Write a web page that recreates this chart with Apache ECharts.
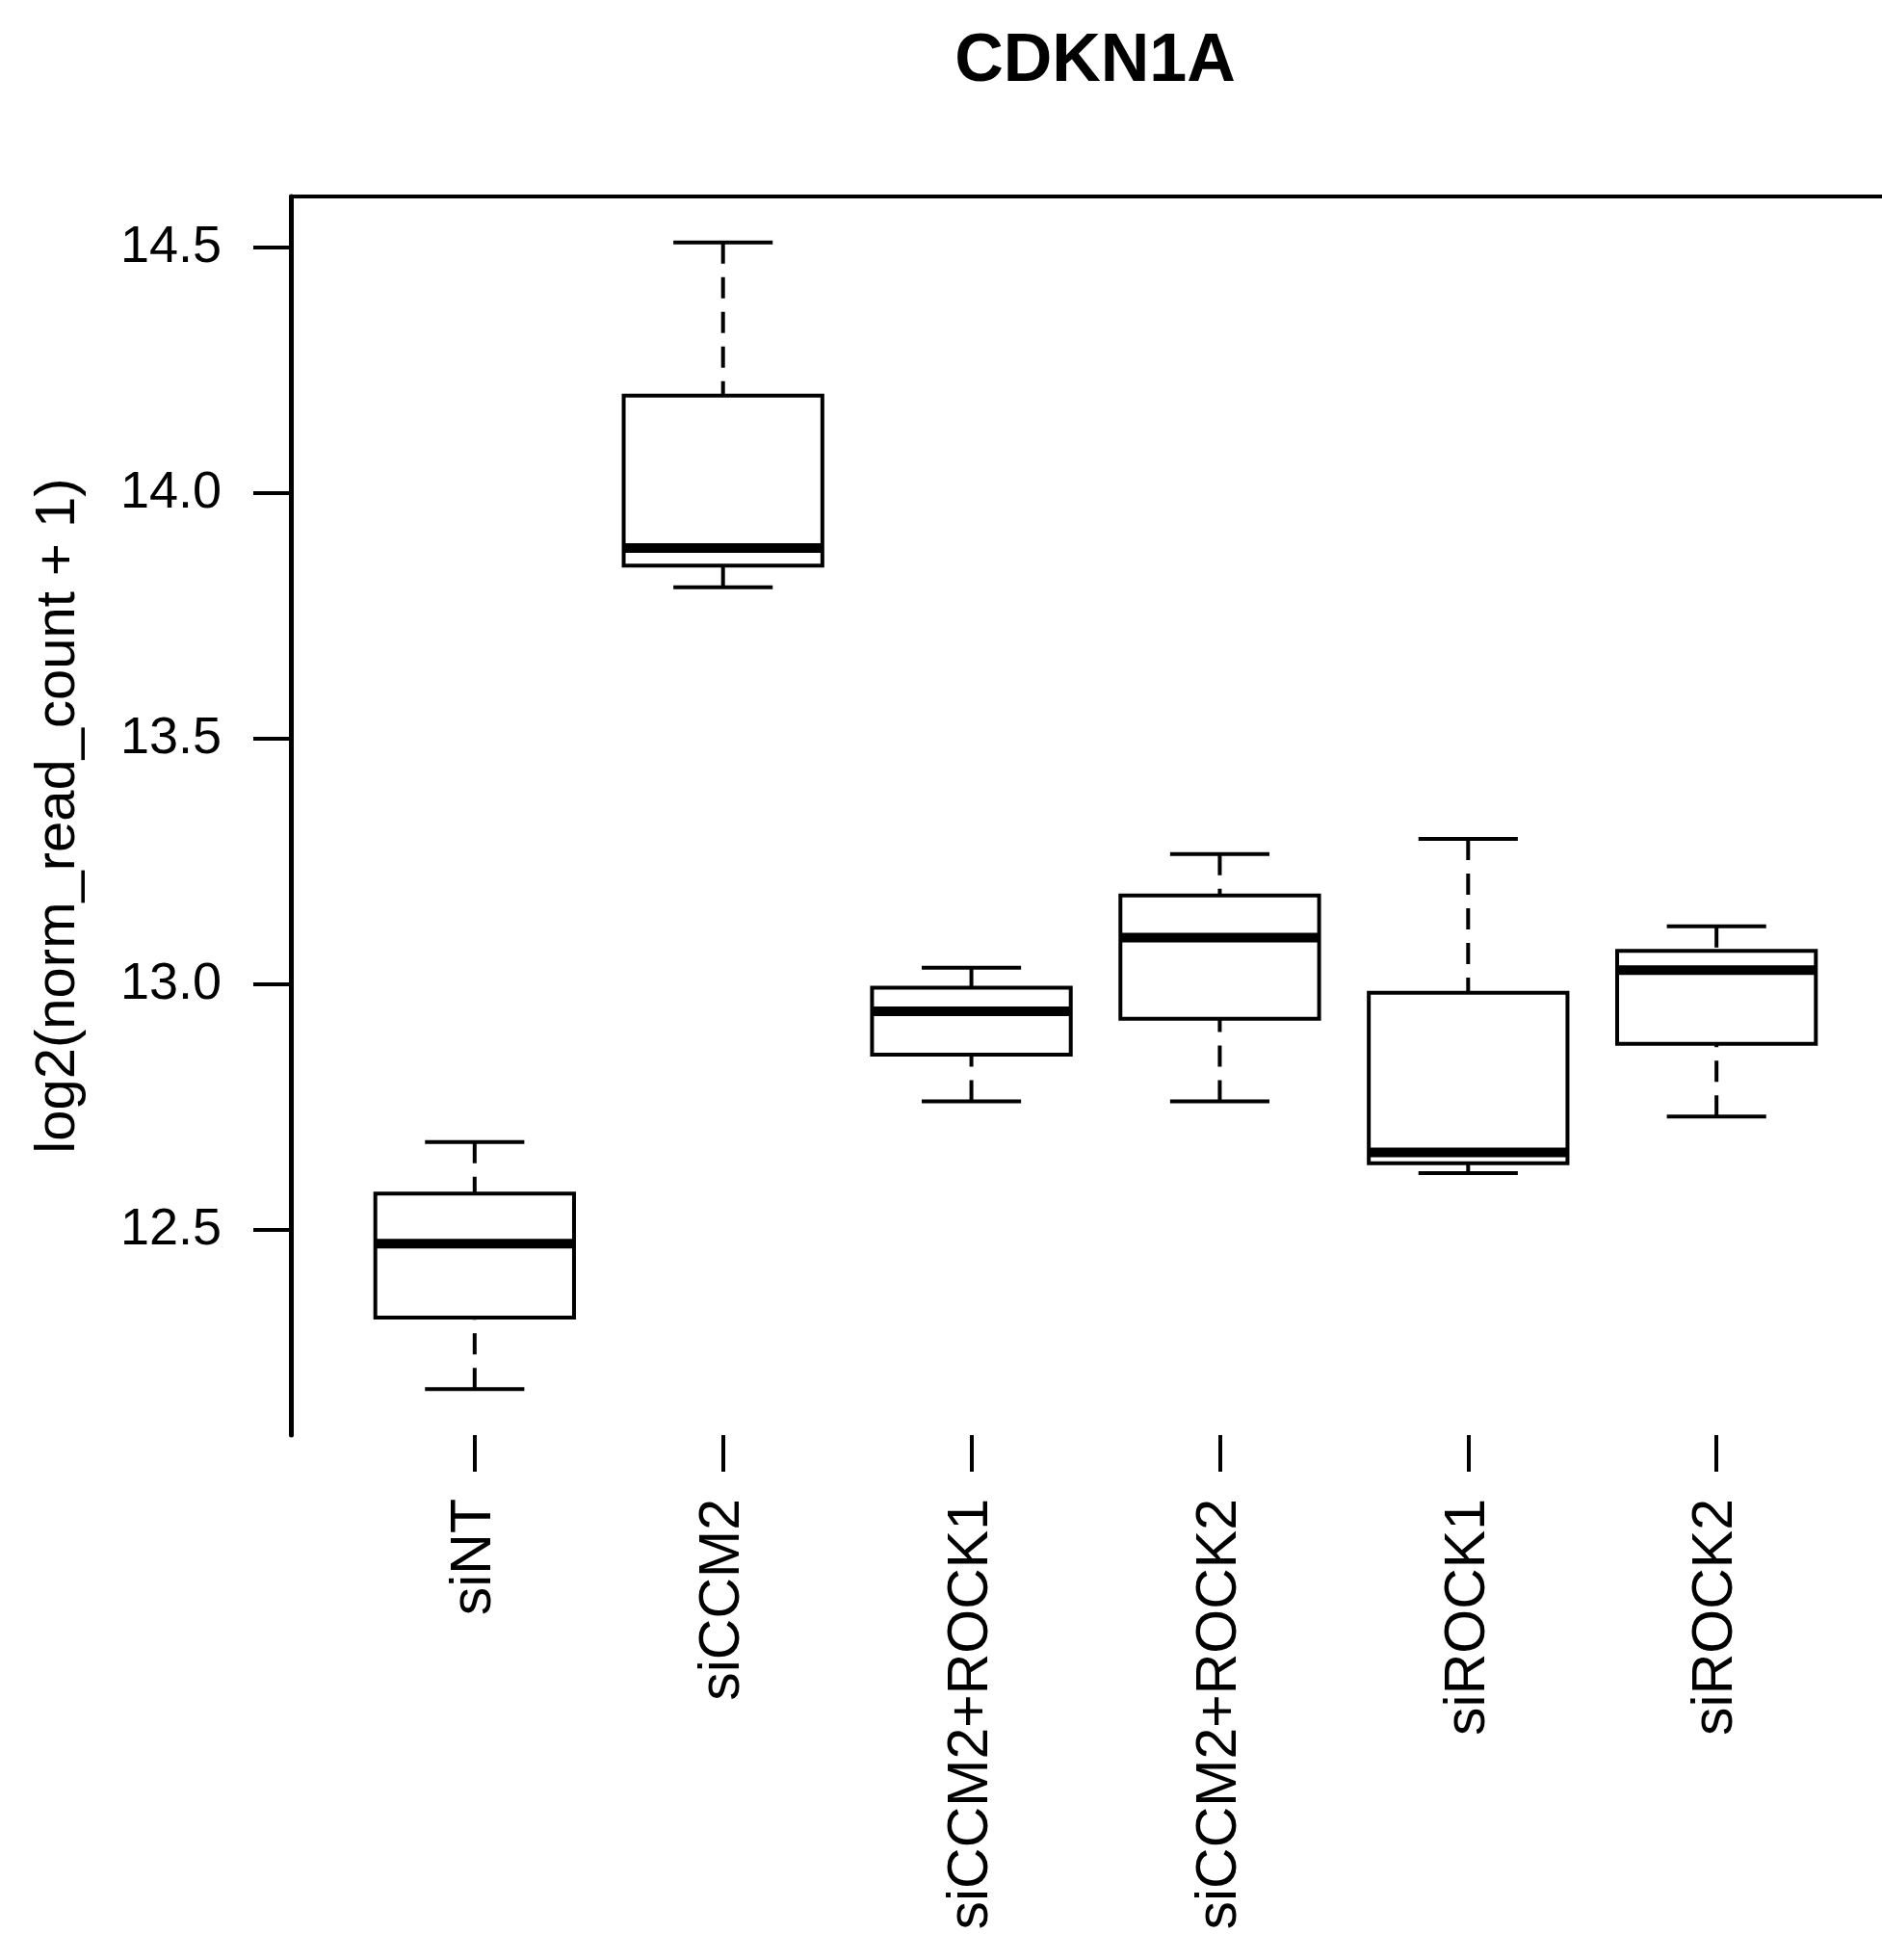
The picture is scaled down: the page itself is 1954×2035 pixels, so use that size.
<!DOCTYPE html>
<html>
<head>
<meta charset="utf-8">
<script src="https://cdn.jsdelivr.net/npm/echarts@6/dist/echarts.min.js"></script>
<style>
  html, body { margin: 0; padding: 0; background: #fff; }
  #chart { width: 1954px; height: 2035px; }
</style>
</head>
<body>
<div id="chart"></div>
<script>
// ---- data ----
const categories = ['siNT', 'siCCM2', 'siCCM2+ROCK1', 'siCCM2+ROCK2', 'siROCK1', 'siROCK2'];
const lowerWhisker = [12.176, 13.808, 12.762, 12.762, 12.616, 12.731];
const lowerQuartile = [12.322, 13.852, 12.857, 12.930, 12.636, 12.879];
const medianValue  = [12.472, 13.888, 12.945, 13.095, 12.658, 13.029];
const upperQuartile = [12.574, 14.198, 12.993, 13.181, 12.983, 13.068];
const upperWhisker = [12.679, 14.510, 13.034, 13.265, 13.296, 13.118];
const yTicks = [12.5, 13.0, 13.5, 14.0, 14.5];
const titleText = 'CDKN1A';
const yTitle = 'log2(norm_read_count + 1)';

// ---- build ----
const rows = categories.map((c, i) => [i, lowerWhisker[i], lowerQuartile[i], medianValue[i], upperQuartile[i], upperWhisker[i]]);
const xIdx = categories.map((c, i) => i);
const lo = Math.min(...lowerWhisker), hi = Math.max(...upperWhisker);
const yMin = lo - 0.04 * (hi - lo), yMax = hi + 0.04 * (hi - lo);
const xMin = -0.5 - 0.04 * categories.length, xMax = categories.length - 0.5 + 0.04 * categories.length;

const FONT = '"Liberation Sans", Arial, Helvetica, sans-serif';
const INK = '#000';

const chart = echarts.init(document.getElementById('chart'), null, { renderer: 'canvas' });
chart.setOption({
  backgroundColor: '#fff',
  animation: false,
  title: {
    text: titleText,
    left: 1132,
    top: 25,
    textAlign: 'center',
    textStyle: { fontFamily: FONT, fontSize: 70, fontWeight: 'bold', color: INK }
  },
  grid: { left: 302, top: 204, width: 1671, height: 1286, containLabel: false, outerBoundsMode: 'none' },
  xAxis: [{
    type: 'value', min: xMin, max: xMax, position: 'bottom',
    axisLine: { show: false, onZero: false },
    splitLine: { show: false },
    axisTick: { show: true, customValues: xIdx, length: 38, lineStyle: { color: INK, width: 4 } },
    axisLabel: {
      customValues: xIdx, rotate: 90, margin: 66,
      padding: [10, 0, 0, 0],
      formatter: v => categories[Math.round(v)],
      fontFamily: FONT, fontSize: 59, color: INK
    }
  }, {
    type: 'value', min: xMin, max: xMax, position: 'top',
    axisLine: { show: true, onZero: false, lineStyle: { color: INK, width: 4 } },
    axisTick: { show: false }, axisLabel: { show: false }, splitLine: { show: false }
  }],
  yAxis: {
    type: 'value', min: yMin, max: yMax, position: 'left',
    axisLine: { show: true, onZero: false, lineStyle: { color: INK, width: 5 } },
    splitLine: { show: false },
    axisTick: { show: true, customValues: yTicks, length: 39, lineStyle: { color: INK, width: 4 } },
    axisLabel: {
      customValues: yTicks, margin: 72,
      formatter: v => v.toFixed(1),
      fontFamily: FONT, fontSize: 54, color: INK
    },
    name: yTitle, nameLocation: 'middle', nameGap: 212, nameRotate: 90,
    nameTextStyle: { fontFamily: FONT, fontSize: 58, color: INK }
  },
  series: [{
    type: 'custom',
    xAxisIndex: 0, yAxisIndex: 0,
    data: rows,
    encode: { x: 0, y: [1, 2, 3, 4, 5] },
    renderItem: function (params, api) {
      const x = api.value(0);
      const pLo = api.coord([x, api.value(1)]);
      const pQ1 = api.coord([x, api.value(2)]);
      const pMd = api.coord([x, api.value(3)]);
      const pQ3 = api.coord([x, api.value(4)]);
      const pHi = api.coord([x, api.value(5)]);
      const unit = api.size([1, 0])[0];
      const bw = unit * 0.8, sw = unit * 0.4;
      const cx = pMd[0];
      const dashed = { stroke: INK, lineWidth: 4, lineDash: [22, 14], fill: null };
      const solid = { stroke: INK, lineWidth: 4, fill: null };
      return {
        type: 'group',
        children: [
          { type: 'line', shape: { x1: cx, y1: pHi[1], x2: cx, y2: pQ3[1] }, style: dashed },
          { type: 'line', shape: { x1: cx, y1: pLo[1], x2: cx, y2: pQ1[1] }, style: dashed },
          { type: 'line', shape: { x1: cx - sw / 2, y1: pHi[1], x2: cx + sw / 2, y2: pHi[1] }, style: solid },
          { type: 'line', shape: { x1: cx - sw / 2, y1: pLo[1], x2: cx + sw / 2, y2: pLo[1] }, style: solid },
          { type: 'rect', shape: { x: cx - bw / 2, y: pQ3[1], width: bw, height: pQ1[1] - pQ3[1] },
            style: { fill: '#fff', stroke: INK, lineWidth: 4 } },
          { type: 'line', shape: { x1: cx - bw / 2, y1: pMd[1], x2: cx + bw / 2, y2: pMd[1] },
            style: { stroke: INK, lineWidth: 10 } }
        ]
      };
    }
  }]
});
</script>
</body>
</html>
